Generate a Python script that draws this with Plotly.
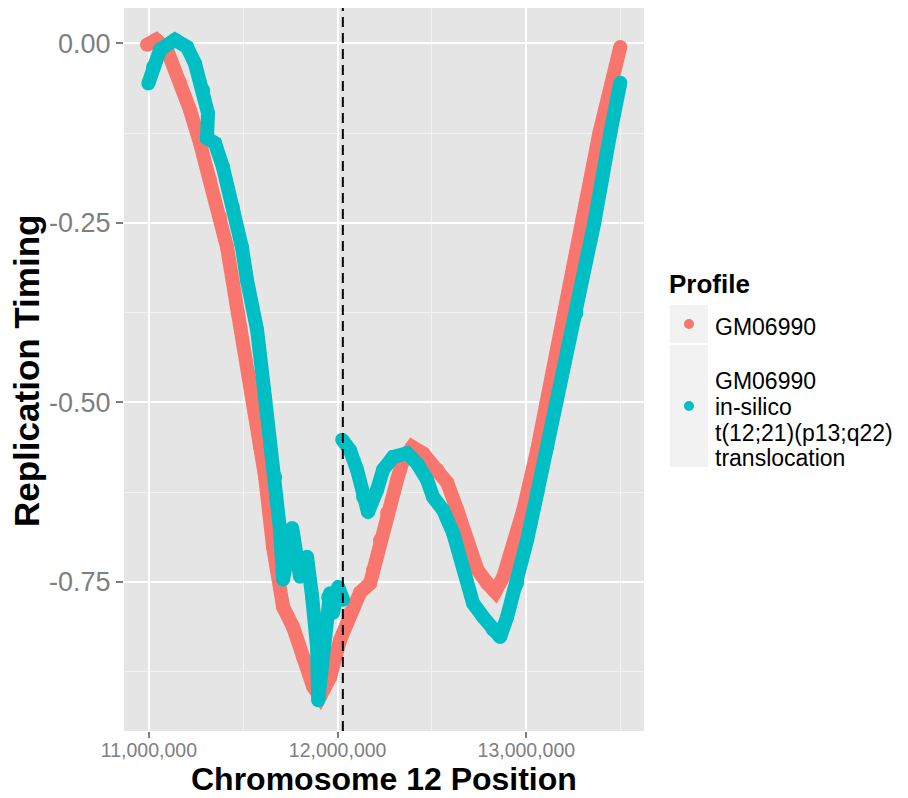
import plotly.graph_objects as go

# ---------------- data ----------------
gm_pos = [10990000, 11038000, 11096000, 11165000, 11218000, 11271000, 11324000, 11377000,
          11414000, 11472000, 11536000, 11589000, 11616000, 11658000, 11695000, 11711000,
          11764000, 11817000, 11870000, 11907000, 11960000, 12013000, 12066000, 12119000,
          12172000, 12188000, 12225000, 12262000, 12315000, 12347000, 12395000, 12453000,
          12528000, 12581000, 12634000, 12687000, 12740000, 12793000, 12835000, 12878000,
          12931000, 12984000, 13058000, 13106000, 13206000, 13302000, 13387000, 13498000]
gm_val = [-0.002, 0.005, -0.009, -0.055, -0.093, -0.139, -0.190, -0.242,
          -0.284, -0.376, -0.469, -0.562, -0.604, -0.702, -0.747, -0.785,
          -0.813, -0.855, -0.896, -0.910, -0.883, -0.831, -0.793, -0.765,
          -0.752, -0.734, -0.692, -0.654, -0.608, -0.580, -0.562, -0.571,
          -0.594, -0.612, -0.650, -0.692, -0.733, -0.752, -0.764, -0.743,
          -0.701, -0.650, -0.566, -0.501, -0.376, -0.250, -0.125, -0.005]

ins_pos = [10997000, 11022000, 11059000, 11138000, 11202000, 11244000, 11287000, 11313000,
           11308000, 11350000, 11392000, 11445000, 11493000, 11520000, 11573000, 11615000,
           11669000, 11695000, 11711000, 11759000, 11801000, 11838000, 11865000, 11891000,
           11897000, 11923000, 11950000, 11960000, 11976000, 12003000, 12029000,
           None,
           12024000, 12066000, 12103000, 12135000, 12161000, 12209000, 12241000, 12294000,
           12368000, 12421000, 12474000, 12506000, 12559000, 12612000, 12665000, 12718000,
           12771000, 12824000, 12861000, 12898000, 12951000, 13004000, 13058000, 13111000,
           13159000, 13265000, 13360000, 13445000, 13498000]
ins_val = [-0.056, -0.033, -0.009, 0.005, -0.005, -0.028, -0.065, -0.097,
           -0.132, -0.139, -0.172, -0.228, -0.284, -0.330, -0.399, -0.493,
           -0.604, -0.678, -0.747, -0.675, -0.743, -0.715, -0.771, -0.841,
           -0.915, -0.841, -0.771, -0.766, -0.793, -0.757, -0.775,
           None,
           -0.552, -0.567, -0.594, -0.632, -0.653, -0.622, -0.594, -0.576,
           -0.571, -0.585, -0.608, -0.632, -0.650, -0.682, -0.729, -0.780,
           -0.799, -0.817, -0.827, -0.799, -0.752, -0.692, -0.626, -0.562,
           -0.501, -0.376, -0.250, -0.125, -0.055]

breakpoint_pos = 12027600

x_tickvals = [11000000, 12000000, 13000000]
x_ticktext = ["11,000,000", "12,000,000", "13,000,000"]
y_tickvals = [0, -0.25, -0.5, -0.75]
y_ticktext = ["0.00", "-0.25", "-0.50", "-0.75"]

x_title = "Chromosome 12 Position"
y_title = "Replication Timing"
legend_title = "Profile"
series_names = ["GM06990", "GM06990 in-silico t(12;21)(p13;q22) translocation"]
legend_lines = [["GM06990"], ["GM06990", "in-silico", "t(12;21)(p13;q22)", "translocation"]]
colors = ["#F8766D", "#00BFC4"]

# ---------------- layout helpers ----------------
W, H = 908, 798
L, R, T, B = 124, 644, 8, 731
FONT = "Liberation Sans, Arial, Helvetica, sans-serif"


def pxx(x):
    return (x - L) / (R - L)


def pxy(y):
    return (B - y) / (B - T)


fig = go.Figure()
for pos, val, name, col in [(gm_pos, gm_val, series_names[0], colors[0]),
                            (ins_pos, ins_val, series_names[1], colors[1])]:
    fig.add_trace(go.Scatter(
        x=pos, y=val, mode="lines+markers", name=name, showlegend=False,
        connectgaps=False,
        line=dict(color=col, width=14, shape="linear"),
        marker=dict(size=14, color=col, line=dict(width=0)),
        hoverinfo="x+y+name"))

# breakpoint
fig.add_shape(type="line", xref="x", yref="paper", x0=breakpoint_pos, x1=breakpoint_pos,
              y0=0, y1=1, line=dict(color="black", width=2, dash="10px,6px"), layer="above")

# ---------------- axis titles ----------------
fig.add_annotation(text="<b>%s</b>" % x_title, xref="paper", yref="paper",
                   x=pxx(384), y=pxy(797.5), xanchor="center", yanchor="bottom",
                   borderpad=0,
                   showarrow=False, font=dict(family=FONT, size=32, color="black"))
fig.add_annotation(text="<b>%s</b>" % y_title, xref="paper", yref="paper",
                   x=pxx(26), y=pxy(371), xanchor="center", yanchor="middle",
                   textangle=-90,
                   showarrow=False, font=dict(family=FONT, size=35, color="black"))

# ---------------- manual legend (ggplot style) ----------------
fig.add_annotation(text="<b>%s</b>" % legend_title, xref="paper", yref="paper",
                   x=pxx(667), y=pxy(284), xanchor="left", yanchor="middle",
                   showarrow=False, font=dict(family=FONT, size=26, color="black"))
key_boxes = [(305, 343), (345, 467)]
dot_y = [324, 406]
line_y = [[327], [381, 406.5, 433, 458]]
for i in range(2):
    y0, y1 = key_boxes[i]
    fig.add_shape(type="rect", xref="paper", yref="paper",
                  x0=pxx(670), x1=pxx(708), y0=pxy(y1), y1=pxy(y0),
                  fillcolor="#F2F2F2", line=dict(width=0), layer="above")
    fig.add_shape(type="circle", xref="paper", yref="paper",
                  x0=pxx(689 - 5), x1=pxx(689 + 5), y0=pxy(dot_y[i] + 5), y1=pxy(dot_y[i] - 5),
                  fillcolor=colors[i], line=dict(width=0), layer="above")
    for txt, yy in zip(legend_lines[i], line_y[i]):
        fig.add_annotation(text=txt, xref="paper", yref="paper",
                           x=pxx(713), y=pxy(yy), xanchor="left", yanchor="middle",
                           showarrow=False, font=dict(family=FONT, size=23, color="black"))

fig.update_layout(
    width=W, height=H,
    margin=dict(l=L, r=W - R, t=T, b=H - B, autoexpand=False),
    paper_bgcolor="white", plot_bgcolor="#E5E5E5",
    showlegend=False,
    font=dict(family=FONT),
    xaxis=dict(
        range=[10868000, 13623500], tickvals=x_tickvals, ticktext=x_ticktext,
        showgrid=True, gridcolor="white", gridwidth=2, zeroline=False, showline=False,
        ticks="outside", ticklen=6, tickwidth=1.5, tickcolor="#7F7F7F",
        ticklabelstandoff=-4,
        tickfont=dict(family=FONT, size=19.5, color="#7F7F7F"),
        minor=dict(tick0=10500000, dtick=1000000, showgrid=True, gridcolor="#F2F2F2",
                   gridwidth=1, ticks=""),
        automargin=False),
    yaxis=dict(
        range=[-0.9578, 0.0492], tickvals=y_tickvals, ticktext=y_ticktext,
        showgrid=True, gridcolor="white", gridwidth=2, zeroline=False, showline=False,
        ticks="outside", ticklen=7, tickwidth=1.5, tickcolor="#7F7F7F",
        tickfont=dict(family=FONT, size=27, color="#7F7F7F"),
        minor=dict(tick0=-0.125, dtick=0.25, showgrid=True, gridcolor="#F2F2F2",
                   gridwidth=1, ticks=""),
        automargin=False),
)

fig.write_html("out.html")
